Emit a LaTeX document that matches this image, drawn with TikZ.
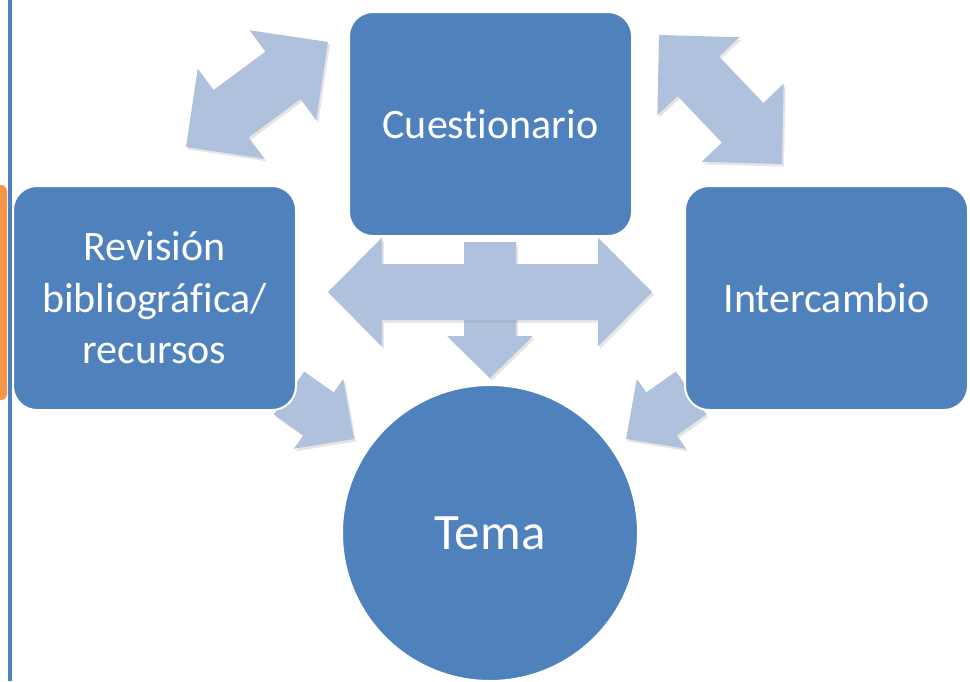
\documentclass[tikz,border=0pt]{standalone}
\usepackage{fontspec}
\setmainfont{Carlito}[Ligatures=NoCommon]
\usetikzlibrary{shadows}
\definecolor{boxblue}{RGB}{79,129,189}
\definecolor{arrowblue}{RGB}{176,193,221}
\definecolor{barorange}{RGB}{247,150,70}
\tikzset{
  box/.style={draw=white, line width=2pt, fill=boxblue, rounded corners=24pt,
    text=white, align=center, font=\fontsize{42}{51.5}\selectfont, inner sep=0pt},
  circ/.style={draw=white, line width=2pt, fill=boxblue, circle, text=white,
    font=\fontsize{51}{60}\selectfont, inner sep=0pt},
  arrowshape/.style={fill=arrowblue, drop shadow={shadow xshift=2pt, shadow yshift=-2.5pt, opacity=0.2}}
}
% double arrow: cx, cy, angle, half length, head length, head half width, shaft half width
\newcommand{\dblarrow}[7]{%
  \begin{scope}[shift={(#1,#2)}, rotate=#3]
    \fill[arrowshape] (-#4,0) -- (-#4+#5,#6) -- (-#4+#5,#7) -- (#4-#5,#7) -- (#4-#5,#6) -- (#4,0)
      -- (#4-#5,-#6) -- (#4-#5,-#7) -- (-#4+#5,-#7) -- (-#4+#5,-#6) -- cycle;
  \end{scope}}
% single arrow: tail x, tail y, angle, length, head length, head half width, shaft half width
\newcommand{\sglarrow}[7]{%
  \begin{scope}[shift={(#1,#2)}, rotate=#3]
    \fill[arrowshape] (0,#7) -- (#4-#5,#7) -- (#4-#5,#6) -- (#4,0) -- (#4-#5,-#6) -- (#4-#5,-#7) -- (0,-#7) -- cycle;
  \end{scope}}
\begin{document}
\begin{tikzpicture}[x=1pt,y=1pt]
\useasboundingbox (0,0) rectangle (970,-681);
\fill[white] (0,0) rectangle (970,-681);
% left page decorations
\fill[barorange, rounded corners=6pt] (-12,-185) rectangle (7,-400);
\fill[boxblue] (8,0) rectangle (12,-681);
% block arrows
\dblarrow{257}{-94.5}{36.5}{88.3}{56}{56}{29.5}
\dblarrow{720.5}{-99.5}{-46.4}{89.1}{57}{56.6}{28.6}
\sglarrow{490}{-242}{-90}{136}{42}{43}{26}
\dblarrow{490}{-292}{0}{162}{54}{54.5}{28}
\sglarrow{289}{-393}{-35.3}{79.6}{43.4}{42.7}{26.3}
\sglarrow{691}{-393}{-144.7}{79.6}{43.4}{42.7}{26.3}
% nodes
\node[box, minimum width=283pt, minimum height=224pt] (cue) at (490.5,-124) {Cuestionario};
\node[box, minimum width=283pt, minimum height=224pt] (rev) at (154.5,-298) {Revisión\\bibliográfica/\\recursos};
\node[box, minimum width=283pt, minimum height=224pt] (int) at (826.5,-298) {Intercambio};
\node[circ, minimum size=296pt] (tema) at (490,-533) {Tema};
\end{tikzpicture}
\end{document}
